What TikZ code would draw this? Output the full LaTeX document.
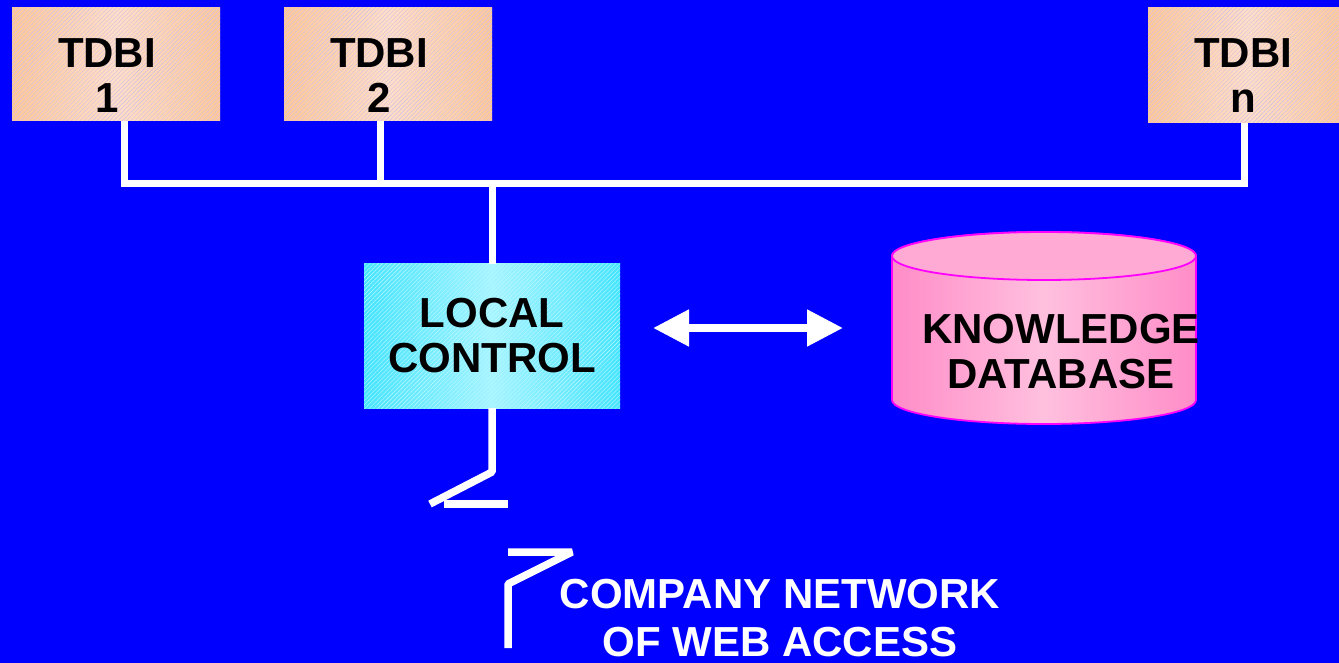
\documentclass[tikz,border=0pt]{standalone}
\usepackage{fontspec}
\setmainfont{Liberation Sans}
\usetikzlibrary{arrows.meta,patterns.meta}

\definecolor{bgblue}{RGB}{0,0,255}
\definecolor{peachA}{RGB}{255,200,152}
\definecolor{peachB}{RGB}{255,222,200}
\definecolor{cyanA}{RGB}{70,228,255}
\definecolor{cyanB}{RGB}{165,244,255}
\definecolor{pinkA}{RGB}{255,140,200}
\definecolor{pinkB}{RGB}{255,192,222}
\definecolor{pinkTop}{RGB}{255,170,212}
\definecolor{dbedge}{RGB}{255,0,255}
\definecolor{hatchpeach}{RGB}{206,190,232}
\definecolor{hatchcyan}{RGB}{190,250,255}

\tikzset{
  hatched/.style={postaction={pattern={Lines[angle=45,distance=3pt,line width=0.4pt]},pattern color=#1}},
  tdbibox/.style={draw=none,inner sep=0pt,left color=peachA,right color=peachA,middle color=peachB,hatched=hatchpeach},
  ctrlbox/.style={draw=none,inner sep=0pt,left color=cyanA,right color=cyanA,middle color=cyanB,hatched=hatchcyan},
  lbl/.style={inner sep=0pt,align=center,font=\fontsize{42}{45}\selectfont\bfseries},
  wire/.style={draw=white,line width=7pt,line join=miter},
  breakline/.style={draw=white,line width=7.5pt,line join=bevel},
}

\begin{document}
\begin{tikzpicture}[x=1pt,y=-1pt]
\useasboundingbox (0,0) rectangle (1339,663);
\fill[bgblue] (0,0) rectangle (1339,663);

% terminal boxes
\node[tdbibox,minimum width=208pt,minimum height=113pt] (tdbi1) at (116,64.5) {};
\node[tdbibox,minimum width=208pt,minimum height=113pt] (tdbi2) at (388,64.5) {};
\node[tdbibox,minimum width=200pt,minimum height=115pt] (tdbin) at (1248,65.5) {};
\node[lbl] (t1) at (107,75.5) {TDBI\\1};
\node[lbl] (t2) at (379,75.5) {TDBI\\2};
\node[lbl] (tn) at (1243,75.5) {TDBI\\n};

% local control box
\node[ctrlbox,minimum width=256pt,minimum height=144pt] (local) at (492,336) {};
\node[lbl] (lc) at (492,335.5) {LOCAL\\CONTROL};

% bus
\coordinate (b1) at (124.5,184);
\coordinate (b2) at (380.5,184);
\coordinate (bc) at (492,184);
\coordinate (bn) at (1244,184);
\draw[wire] (tdbi1.south -| b1) -- (b1) -- (bn) -- (tdbin.south -| bn);
\draw[wire] (tdbi2.south -| b2) -- (b2);
\draw[wire] (bc) -- (local.north -| bc);

% knowledge database cylinder (y axis points down, so the lower rim passes 90 degrees)
\path[left color=pinkA,right color=pinkA,middle color=pinkB,draw=dbedge,line width=1.8pt]
  (892,256) -- (892,400) arc[start angle=180,end angle=0,x radius=152,y radius=24]
  -- (1196,256) arc[start angle=0,end angle=-180,x radius=152,y radius=24] -- cycle;
\draw[fill=pinkTop,draw=dbedge,line width=1.8pt] (1044,256) ellipse[x radius=152,y radius=24];
\node[lbl] (kdb) at (1061,351.5) {KNOWLEDGE\\DATABASE};

% two-way link
\coordinate (al) at (653,328);
\coordinate (ar) at (843,328);
\draw[white,line width=8pt,{Triangle[width=35pt,length=36pt]}-{Triangle[width=35pt,length=36pt]}] (al) -- (ar);

% broken link to the network
\coordinate (d1) at (492,472);
\coordinate (d2) at (430,504);
\coordinate (h1) at (444,504);
\coordinate (h2) at (508,504);
\draw[breakline] (local.south -| d1) -- (d1) -- (d2);
\draw[breakline] (h1) -- (h2);
\coordinate (u1) at (508,552);
\coordinate (u2) at (572,552);
\coordinate (u3) at (508,584);
\coordinate (u4) at (508,648);
\draw[breakline] (u1) -- (u2) -- (u3) -- (u4);

\node[lbl,text=white,font=\fontsize{42}{48}\selectfont\bfseries] (net) at (780,618) {COMPANY NETWORK\\OF WEB ACCESS};
\end{tikzpicture}
\end{document}
